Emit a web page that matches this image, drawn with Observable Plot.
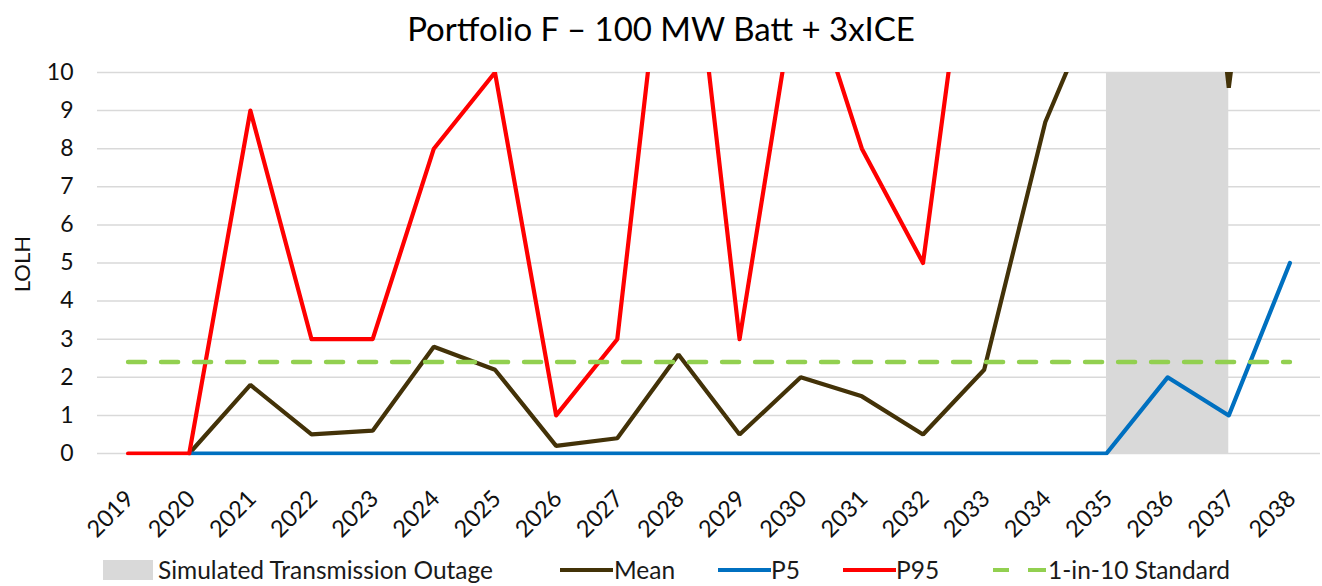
<!DOCTYPE html>
<html>
<head>
<meta charset="utf-8">
<script src="https://cdn.jsdelivr.net/npm/d3@7"></script>
<script src="https://cdn.jsdelivr.net/npm/@observablehq/plot@0.6"></script>
<style>
  body { margin: 0; background: #fff; width: 1322px; height: 586px; overflow: hidden; font-family: Lato, "Open Sans", sans-serif; }
  #wrap { position: relative; width: 1322px; height: 586px; }
  #title { position: absolute; left: 0; top: 6px; width: 1322px; text-align: center; font-size: 33px; color: #000; line-height: 44px; }
  #chart { position: absolute; left: 0; top: 56px; }
  #legend { position: absolute; left: 0; top: 555px; width: 1322px; height: 30px; font-size: 25px; color: #1a1a1a; }
  .item { position: absolute; top: 0; height: 30px; line-height: 30px; white-space: nowrap; }
  .sw { position: absolute; }
</style>
</head>
<body>
<div id="wrap">
  <div id="title">Portfolio F – 100 MW Batt + 3xICE</div>
  <div id="chart"></div>
  <div id="legend"></div>
</div>
<script>
// ---- data ----
const years = [2019, 2020, 2021, 2022, 2023, 2024, 2025, 2026, 2027, 2028, 2029, 2030, 2031, 2032, 2033, 2034, 2035, 2036, 2037, 2038];
// null = no value drawn
const meanValues = [null, 0, 1.8, 0.5, 0.6, 2.8, 2.2, 0.2, 0.4, 2.6, 0.5, 2.0, 1.5, 0.5, 2.2, 8.7, 12.5, 24, 9.6, 22];
const p5Values   = [null, 0, 0, 0, 0, 0, 0, 0, 0, 0, 0, 0, 0, 0, 0, 0, 0, 2, 1, 5];
const p95Values  = [0, 0, 9, 3, 3, 8, 10, 1, 3, 17, 3, 13, 8, 5, 17, 25, 30, 30, 30, 30];
const standardValue = 2.4;
const outageStart = 2035;
const outageEnd = 2037;
const yTicks = [0, 1, 2, 3, 4, 5, 6, 7, 8, 9, 10];
const yLabel = "LOLH";

const seriesNames = ["Simulated Transmission Outage", "Mean", "P5", "P95", "1-in-10 Standard"];
const colors = { outage: "#D9D9D9", mean: "#433208", p5: "#0070C0", p95: "#FF0000", std: "#92D050" };

// ---- tables ----
const toRows = (vals) => years.map((y, i) => ({ year: y, v: vals[i] })).filter(d => d.v !== null);
const meanRows = toRows(meanValues);
const p5Rows = toRows(p5Values);
const p95Rows = toRows(p95Values);
const stdRows = years.map(y => ({ year: y, v: standardValue }));
const outageRows = [{ x1: outageStart, x2: outageEnd }];

const chart = Plot.plot({
  width: 1322,
  height: 476,
  marginTop: 16,
  marginBottom: 76.7,
  marginLeft: 97,
  marginRight: 2,
  style: { fontFamily: "Lato, 'Open Sans', sans-serif", background: "transparent", overflow: "visible" },
  x: { type: "linear", domain: [years[0] - 0.5, years[years.length - 1] + 0.5] },
  // small negative lower bound so lines sitting on 0 are drawn at full width
  y: { domain: [-0.06, 10] },
  marks: [
    Plot.rect(outageRows, { x1: "x1", x2: "x2", y1: 0, y2: 10, fill: colors.outage }),
    Plot.gridY(yTicks, { stroke: "#D9D9D9", strokeOpacity: 1, strokeWidth: 1.5 }),
    Plot.axisY(yTicks, { tickSize: 0, tickPadding: 24, fontSize: 23, fill: "#111", label: null }),
    Plot.text([yLabel], { frameAnchor: "left", textAnchor: "middle", rotate: -90, dx: -75, fontSize: 22, fill: "#111" }),
    Plot.axisX(years, { tickSize: 0, tickRotate: -45, tickPadding: 13, dy: 26, dx: 2, fontSize: 23.5, fill: "#111", tickFormat: d => String(d), label: null }),
    Plot.line(meanRows, { x: "year", y: "v", stroke: colors.mean, strokeWidth: 4.2, strokeLinejoin: "miter", clip: true }),
    Plot.line(p5Rows, { x: "year", y: "v", stroke: colors.p5, strokeWidth: 4.2, clip: true }),
    Plot.line(p95Rows, { x: "year", y: "v", stroke: colors.p95, strokeWidth: 4.2, clip: true }),
    Plot.line(stdRows, { x: "year", y: "v", stroke: colors.std, strokeWidth: 4.5, strokeDasharray: "17,16", clip: true })
  ]
});
document.getElementById("chart").appendChild(chart);

// ---- legend ----
const legend = document.getElementById("legend");
const legendItems = [
  { name: seriesNames[0], kind: "box", color: colors.outage, sx: 103, tx: 158 },
  { name: seriesNames[1], kind: "line", color: colors.mean, sx: 560, tx: 614 },
  { name: seriesNames[2], kind: "line", color: colors.p5, sx: 718, tx: 771 },
  { name: seriesNames[3], kind: "line", color: colors.p95, sx: 843, tx: 896 },
  { name: seriesNames[4], kind: "dash", color: colors.std, sx: 993, tx: 1048 }
];
for (const it of legendItems) {
  const sw = document.createElement("div");
  sw.className = "sw";
  if (it.kind === "box") {
    Object.assign(sw.style, { left: it.sx + "px", top: "5px", width: "50px", height: "20px", background: it.color });
  } else if (it.kind === "line") {
    Object.assign(sw.style, { left: it.sx + "px", top: "13px", width: "53px", height: "4px", background: it.color });
  } else {
    Object.assign(sw.style, { left: it.sx + "px", top: "13px", width: "53px", height: "4px",
      background: `linear-gradient(to right, ${it.color} 0 16px, transparent 16px 35px, ${it.color} 35px 53px)` });
  }
  legend.appendChild(sw);
  const t = document.createElement("div");
  t.className = "item";
  t.style.left = it.tx + "px";
  t.style.fontSize = "24.5px";
  t.textContent = it.name;
  legend.appendChild(t);
}
</script>
</body>
</html>
